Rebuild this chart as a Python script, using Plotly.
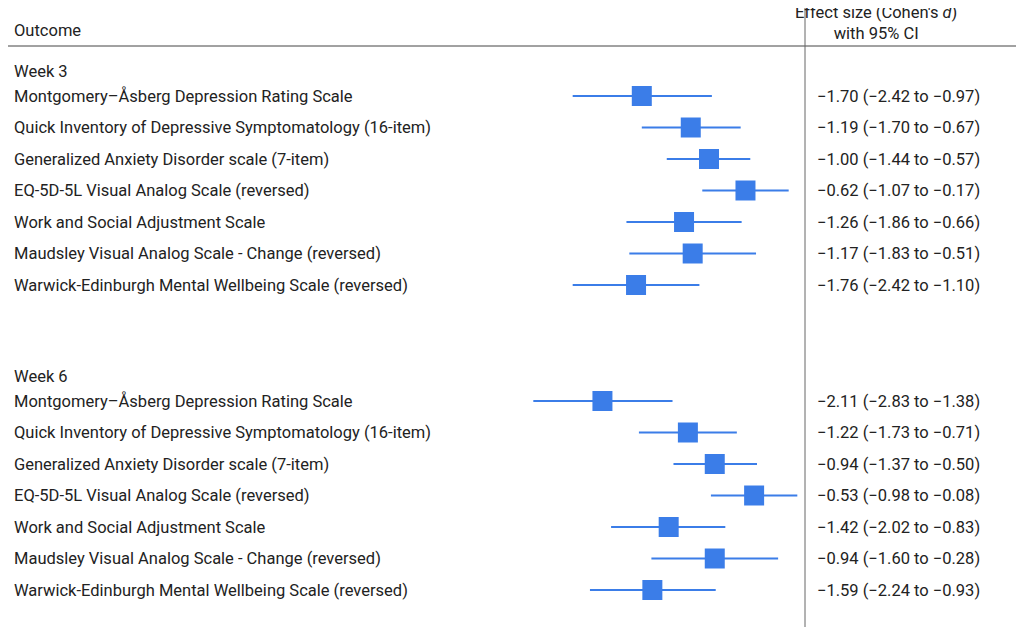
import plotly.graph_objects as go

outcomes = ["Montgomery–Åsberg Depression Rating Scale",
            "Quick Inventory of Depressive Symptomatology (16-item)",
            "Generalized Anxiety Disorder scale (7-item)",
            "EQ-5D-5L Visual Analog Scale (reversed)",
            "Work and Social Adjustment Scale",
            "Maudsley Visual Analog Scale - Change (reversed)",
            "Warwick-Edinburgh Mental Wellbeing Scale (reversed)"]
w3_est = [-1.70, -1.19, -1.00, -0.62, -1.26, -1.17, -1.76]
w3_lo = [-2.42, -1.70, -1.44, -1.07, -1.86, -1.83, -2.42]
w3_hi = [-0.97, -0.67, -0.57, -0.17, -0.66, -0.51, -1.10]
w6_est = [-2.11, -1.22, -0.94, -0.53, -1.42, -0.94, -1.59]
w6_lo = [-2.83, -1.73, -1.37, -0.98, -2.02, -1.60, -2.24]
w6_hi = [-1.38, -0.71, -0.50, -0.08, -0.83, -0.28, -0.93]

OFF = 8
PX = 96.0; X0 = 805.0 - OFF
def v(px): return (px - OFF - X0) / PX
def yy(py): return py - OFF

blue = "#3b7de8"
font = "Roboto"
FS = 16.5
fig = go.Figure()
anns = []
def block(title, ytitle, ests, los, his):
    anns.append(dict(x=v(12), y=yy(ytitle), text=title, xanchor="left", showarrow=False, font=dict(size=FS)))
    ys = [yy(ytitle + 25 + 31.5 * i) for i in range(len(ests))]
    for y, e, lo, hi, name in zip(ys, ests, los, his, outcomes):
        fig.add_trace(go.Scatter(x=[lo, hi], y=[y, y], mode="lines", line=dict(color=blue, width=2), showlegend=False))
        anns.append(dict(x=v(12), y=y, text=name, xanchor="left", showarrow=False, font=dict(size=FS)))
        anns.append(dict(x=v(815), y=y, text=f"{e:.2f} ({lo:.2f} to {hi:.2f})".replace("-", "−"),
                         xanchor="left", showarrow=False, font=dict(size=FS)))
    fig.add_trace(go.Scatter(x=ests, y=ys, mode="markers", marker=dict(symbol="square", size=20, color=blue),
                             showlegend=False))

block("Week 3", 71, w3_est, w3_lo, w3_hi)
block("Week 6", 376, w6_est, w6_lo, w6_hi)
anns.append(dict(x=v(12), y=yy(30), text="Outcome", xanchor="left", showarrow=False, font=dict(size=FS)))
anns.append(dict(x=v(876), y=yy(23), text="Effect size (Cohen's <i>d</i>)<br>with 95% CI", xanchor="center",
                 showarrow=False, font=dict(size=FS)))

fig.update_layout(width=1024, height=629, margin=dict(l=0, r=0, t=0, b=0),
                  paper_bgcolor="white", plot_bgcolor="white",
                  font=dict(family=font, color="#222"),
                  xaxis=dict(range=[v(OFF), v(1024 + OFF)], visible=False),
                  yaxis=dict(range=[629, 0], visible=False),
                  annotations=anns,
                  shapes=[dict(type="line", x0=v(8), x1=v(1017), y0=yy(46), y1=yy(46), line=dict(color="#444", width=1)),
                          dict(type="line", x0=0, x1=0, y0=0, y1=yy(627), line=dict(color="#666", width=1))])
fig.write_html("out.html")
